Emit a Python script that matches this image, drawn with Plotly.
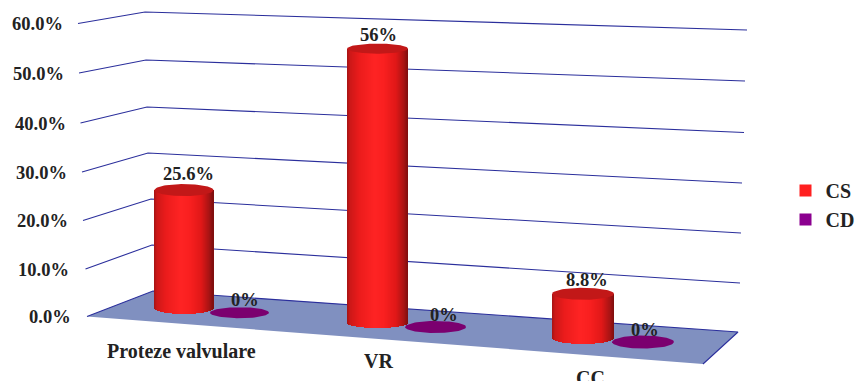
import numpy as np
import plotly.graph_objects as go

# ---- data ----
categories = ["Proteze valvulare", "VR", "CC"]
cs_values = [25.6, 56, 8.8]
cd_values = [0, 0, 0]
cs_labels = ["25.6%", "56%", "8.8%"]
cd_labels = ["0%", "0%", "0%"]
tick_values = [0, 10, 20, 30, 40, 50, 60]
tick_labels = ["0.0%", "10.0%", "20.0%", "30.0%", "40.0%", "50.0%", "60.0%"]

# ---- oblique projection constants (figure px) ----
W, H = 856, 381
PX_PER_UNIT = 4.875
ZERO_PX = 316.5


def Y(py):
    """figure pixel row -> value-axis coordinate"""
    return (ZERO_PX - py) / PX_PER_UNIT


FRONT_X = [87, 85.5, 83, 82, 80.5, 79, 78]
FRONT_Y = [316.5, 269, 220.5, 172, 123, 73, 23.5]
BACK_X = [153, 152, 151, 148, 147, 146, 145]
BACK_Y = [291, 245, 199, 153, 107, 60, 12]
RIGHT_X = [738, 740, 741, 742, 744, 745, 747]
RIGHT_Y = [332, 283, 233, 183, 132.5, 81, 30]
FLOOR_FRONT_RIGHT = (703, 364)
TICK_RIGHT = [72.5, 70.5, 69.5, 68.5, 67.5, 65.5, 64.5]

CS_CX = [184, 377.5, 583]
CS_A = [29.5, 30.5, 31]
CS_B = [6, 5, 6]
CS_BOTTOM = [308, 323, 338]
CS_SCALE = [0.945, 1.005, 1.03]   # perspective factor per category
CD_CX = [239.5, 435.5, 643]
CD_CY = [312.7, 327, 342]
CD_A = [29.5, 30.5, 31]
CD_B = [5.5, 6, 6.5]

CAT_POS = [(181, 351), (378, 361), (590, 378)]
CS_LABEL_POS = [(188, 174), (378, 35), (587, 280)]
CD_LABEL_POS = [(245, 300), (444, 315), (645, 330)]

GRID = "#2b2f9c"
FLOOR = "#8090c0"
TEXT = "#222222"
FONT = "Liberation Serif"


def shade(t):
    """t in [0,1] across the cylinder -> red shade"""
    xs = [0, 0.05, 0.2, 0.45, 0.6, 0.8, 0.93, 1]
    r = [165, 205, 235, 255, 250, 225, 170, 125]
    g = [20, 24, 28, 36, 32, 24, 20, 15]
    b = [20, 24, 28, 36, 32, 24, 20, 15]
    return "rgb(%d,%d,%d)" % (np.interp(t, xs, r), np.interp(t, xs, g), np.interp(t, xs, b))


fig = go.Figure()

# floor (base axes: drawn underneath everything on x2/y2)
fig.add_trace(go.Scatter(
    x=[FRONT_X[0], BACK_X[0], RIGHT_X[0], FLOOR_FRONT_RIGHT[0], FRONT_X[0]],
    y=[Y(FRONT_Y[0]), Y(BACK_Y[0]), Y(RIGHT_Y[0]), Y(FLOOR_FRONT_RIGHT[1]), Y(FRONT_Y[0])],
    mode="lines", fill="toself", fillcolor=FLOOR, line=dict(width=0),
    showlegend=False, hoverinfo="skip"))

# grid lines
for i, _ in enumerate(tick_values):
    xs = [FRONT_X[i], BACK_X[i], RIGHT_X[i]]
    ys = [Y(FRONT_Y[i]), Y(BACK_Y[i]), Y(RIGHT_Y[i])]
    if i == 0:
        xs.append(FLOOR_FRONT_RIGHT[0])
        ys.append(Y(FLOOR_FRONT_RIGHT[1]))
    fig.add_trace(go.Scatter(x=xs, y=ys, mode="lines",
                             line=dict(color=GRID, width=1.1),
                             showlegend=False, hoverinfo="skip"))

theta = np.linspace(0, 2 * np.pi, 80)

# CS cylinders: 1 px vertical strips carrying the shading
for i, val in enumerate(cs_values):
    a, b, cx = CS_A[i], CS_B[i], CS_CX[i]
    n = int(round(2 * a))
    offs = (np.arange(n) + 0.5) - a
    sag = b * np.sqrt(np.clip(1 - (offs / a) ** 2, 0, 1)) / PX_PER_UNIT
    base = Y(CS_BOTTOM[i]) - sag
    top = Y(CS_BOTTOM[i]) + val * CS_SCALE[i]
    fig.add_trace(go.Bar(
        x=cx + offs, y=top - base, base=base, width=1.0, xaxis="x2", yaxis="y2",
        marker=dict(color=[shade((o + a) / (2 * a)) for o in offs], line=dict(width=0)),
        showlegend=False, hoverinfo="skip"))
    fig.add_trace(go.Scatter(
        x=cx + a * np.cos(theta),
        y=top + b / PX_PER_UNIT * np.sin(theta), xaxis="x2", yaxis="y2",
        mode="lines", fill="toself", fillcolor="#c21818", line=dict(width=0),
        showlegend=False, hoverinfo="skip"))

# CD discs (zero height)
for i, val in enumerate(cd_values):
    fig.add_trace(go.Scatter(
        x=CD_CX[i] + CD_A[i] * np.cos(theta),
        y=Y(CD_CY[i]) + val + CD_B[i] / PX_PER_UNIT * np.sin(theta), xaxis="x2", yaxis="y2",
        mode="lines", fill="toself", fillcolor="#7b006f", line=dict(width=0),
        showlegend=False, hoverinfo="skip"))

# legend entries
fig.add_trace(go.Bar(x=[None], y=[None], name="CS", marker=dict(color="#ff2020", line=dict(width=0))))
fig.add_trace(go.Bar(x=[None], y=[None], name="CD", marker=dict(color="#8b008f", line=dict(width=0))))

ann = []


def label(x, py, text, size=15, anchor="center"):
    ann.append(dict(x=x, y=Y(py), xref="x", yref="y", text="<b>%s</b>" % text,
                    showarrow=False, xanchor=anchor, yanchor="middle",
                    font=dict(family=FONT, size=size, color=TEXT)))


for i, t in enumerate(tick_labels):
    label(TICK_RIGHT[i], FRONT_Y[i] + 0.5, t, 18.5, "right")
for c, (x, y) in zip(categories, CAT_POS):
    label(x, y, c, 20)
for t, (x, y) in zip(cs_labels, CS_LABEL_POS):
    label(x, y, t, 18.5)
for t, (x, y) in zip(cd_labels, CD_LABEL_POS):
    label(x, y, t, 18.5)

axis = dict(visible=False, fixedrange=True)
fig.update_layout(
    width=W, height=H, margin=dict(l=0, r=0, t=0, b=0, autoexpand=False),
    paper_bgcolor="white", plot_bgcolor="white", barmode="overlay", bargap=0,
    xaxis=dict(range=[0, W], **axis),
    yaxis=dict(range=[Y(H), Y(0)], **axis),
    xaxis2=dict(range=[0, W], overlaying="x", **axis),
    yaxis2=dict(range=[Y(H), Y(0)], overlaying="y", **axis),
    annotations=ann,
    legend=dict(x=794.5 / W, y=1 - 171 / H, xanchor="left", yanchor="top",
                bgcolor="rgba(0,0,0,0)", tracegroupgap=0, itemwidth=30, indentation=-9,
                font=dict(family=FONT, size=20, color=TEXT, weight="bold")),
)

fig.write_html("out.html", config=dict(displayModeBar=False),
               post_script="document.body.style.margin='0';document.body.style.overflow='hidden';")
